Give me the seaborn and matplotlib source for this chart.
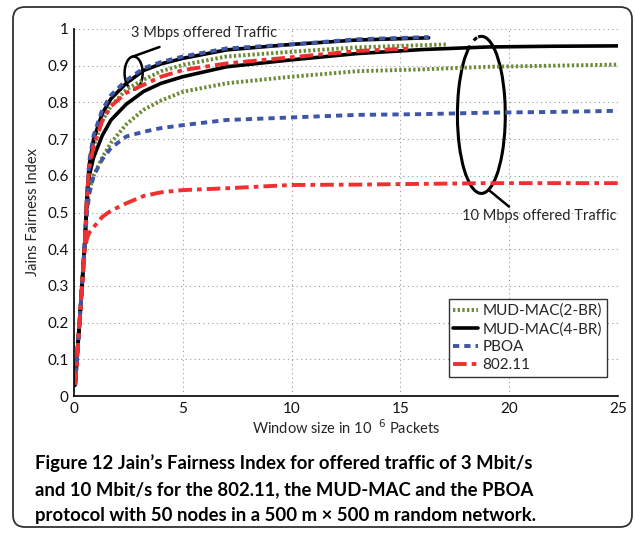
import numpy as np
import pandas as pd
import matplotlib.pyplot as plt
import seaborn as sns
from matplotlib.patches import Arc, FancyBboxPatch

# window size in 10^6 packets
x_3m_a = [0.05, 0.3, 0.5, 0.6, 0.7, 0.9, 1.3, 1.7, 2.4, 3.2, 4, 5, 7, 10, 13, 16.3]
pboa_3m = [0.03, 0.24, 0.42, 0.55, 0.64, 0.71, 0.78, 0.82, 0.86, 0.893, 0.91, 0.925, 0.947, 0.958, 0.972, 0.978]
mud4_3m = [0.03, 0.24, 0.42, 0.55, 0.63, 0.70, 0.77, 0.81, 0.852, 0.887, 0.905, 0.92, 0.943, 0.958, 0.970, 0.976]

x_3m_mud2 = [0.05, 0.3, 0.5, 0.6, 0.7, 0.9, 1.3, 1.7, 2.4, 3.2, 4, 5, 7, 10, 13, 15, 17.1]
mud2_3m = [0.03, 0.24, 0.42, 0.55, 0.62, 0.68, 0.75, 0.79, 0.835, 0.862, 0.885, 0.902, 0.925, 0.938, 0.95, 0.954, 0.958]

x_3m_wifi = [0.05, 0.3, 0.5, 0.6, 0.7, 0.9, 1.3, 1.7, 2.4, 3.2, 4, 5, 7, 10, 13, 15.5]
wifi_3m = [0.03, 0.24, 0.42, 0.55, 0.62, 0.68, 0.75, 0.79, 0.826, 0.848, 0.87, 0.888, 0.906, 0.923, 0.94, 0.947]

x_10m = [0.05, 0.3, 0.5, 0.6, 0.7, 0.9, 1.3, 1.7, 2.4, 3.2, 4, 5, 7, 10, 13, 16, 19, 22, 25]
mud4_10m = [0.03, 0.24, 0.42, 0.54, 0.60, 0.65, 0.71, 0.752, 0.795, 0.83, 0.852, 0.87, 0.897, 0.916, 0.933, 0.944, 0.951, 0.953, 0.954]
mud2_10m = [0.03, 0.24, 0.42, 0.52, 0.56, 0.60, 0.65, 0.69, 0.74, 0.78, 0.805, 0.829, 0.852, 0.87, 0.885, 0.89, 0.897, 0.90, 0.903]
pboa_10m = [0.03, 0.24, 0.42, 0.50, 0.55, 0.60, 0.645, 0.676, 0.707, 0.72, 0.73, 0.738, 0.752, 0.759, 0.766, 0.768, 0.772, 0.774, 0.777]
wifi_10m = [0.03, 0.24, 0.40, 0.43, 0.445, 0.46, 0.488, 0.505, 0.525, 0.545, 0.555, 0.561, 0.566, 0.575, 0.576, 0.578, 0.58, 0.58, 0.58]

x_ticks = [0, 5, 10, 15, 20, 25]
y_ticks = [0, 0.1, 0.2, 0.3, 0.4, 0.5, 0.6, 0.7, 0.8, 0.9, 1]
y_ticklabels = ['0', '0.1', '0.2', '0.3', '0.4', '0.5', '0.6', '0.7', '0.8', '0.9', '1']

caption = ["Figure 12 Jain\u2019s Fairness Index for offered traffic of 3 Mbit/s",
           "and 10 Mbit/s for the 802.11, the MUD-MAC and the PBOA",
           "protocol with 50 nodes in a 500 m \u00d7 500 m random network."]

sns.set_theme(style="white")
plt.rcParams['font.family'] = ['Lato', 'DejaVu Sans']

green = '#6b8a35'
blue = '#3f56a8'
red = '#ee3030'

fig = plt.figure(figsize=(6.35, 5.33), dpi=100)
ax = fig.add_axes([74 / 635, 1 - 396 / 533, 544 / 635, 367 / 533])

styles = {
    'MUD-MAC(2-BR)': dict(color=green, linestyle=(0, (0.6, 0.6)), lw=2.8),
    'MUD-MAC(4-BR)': dict(color='black', linestyle='-', lw=2.6),
    'PBOA': dict(color=blue, linestyle=(0, (1.6, 1.3)), lw=2.8),
    '802.11': dict(color=red, linestyle=(0, (3.5, 1.3, 1.2, 1.3)), lw=2.8),
}

curves = [
    ('MUD-MAC(2-BR)', x_10m, mud2_10m, True),
    ('MUD-MAC(2-BR)', x_3m_mud2, mud2_3m, False),
    ('MUD-MAC(4-BR)', x_10m, mud4_10m, True),
    ('MUD-MAC(4-BR)', x_3m_a, mud4_3m, False),
    ('PBOA', x_10m, pboa_10m, True),
    ('PBOA', x_3m_a, pboa_3m, False),
    ('802.11', x_10m, wifi_10m, True),
    ('802.11', x_3m_wifi, wifi_3m, False),
]

for name, xs, ys, show in curves:
    sns.lineplot(x=xs, y=ys, ax=ax, label=name if show else None,
                 dash_capstyle='butt', **styles[name])

ax.set_xlim(0, 25)
ax.set_ylim(0, 1)
ax.set_xticks(x_ticks)
ax.set_yticks(y_ticks)
ax.set_yticklabels(y_ticklabels)
ax.tick_params(direction='in', length=4, width=1, labelsize=11, pad=4, colors='#111111')
ax.grid(True, linestyle=(0, (1, 3)), color='#999999', lw=0.8)
for s in ['top', 'right']:
    ax.spines[s].set_visible(False)
for s in ['left', 'bottom']:
    ax.spines[s].set_color('black')
    ax.spines[s].set_linewidth(1.2)

ax.set_xlabel('Window size in 10  $^{6}$ Packets', fontsize=10.5, labelpad=2)
ax.set_ylabel('Jains Fairness Index', fontsize=10.5, labelpad=5)

# annotations
ax.text(2.63, 0.989, '3 Mbps offered Traffic', fontsize=10.5, va='center', ha='left')
ax.plot([2.66, 3.93], [0.924, 0.951], color='black', lw=1.8)
ax.add_patch(Arc((2.74, 0.88), 0.83, 0.09, theta1=250, theta2=190, color='black', lw=1.8))

ax.text(17.83, 0.49, '10 Mbps offered Traffic', fontsize=10.5, va='center', ha='left')
ax.plot([19.07, 19.99], [0.561, 0.516], color='black', lw=1.8)
ax.add_patch(Arc((18.72, 0.766), 2.2, 0.428, theta1=-200, theta2=125, color='black', lw=2.2))
ax.add_patch(Arc((18.72, 0.766), 2.2, 0.428, theta1=133, theta2=150, color='black', lw=2.2))

leg = ax.legend(loc='lower right', bbox_to_anchor=(0.979, 0.053), fontsize=11,
                frameon=True, fancybox=False, edgecolor='#333333', framealpha=1,
                handlelength=1.6, handletextpad=0.3, borderpad=0.3, labelspacing=0.25,
                borderaxespad=0)
leg.get_frame().set_linewidth(1.0)

# caption and frame
for i, line in enumerate(caption):
    fig.text(35 / 635, 1 - (463 + 26.5 * i) / 533, line, fontsize=13.3,
             fontweight='bold', va='center', ha='left', color='black')

frame = FancyBboxPatch((13, 533 - 527), 619, 520, boxstyle='round,pad=0,rounding_size=12',
                       transform=None, fill=False, edgecolor='#333333', lw=1.3)
fig.patches.append(frame)

fig.savefig('out.png', dpi=100)
